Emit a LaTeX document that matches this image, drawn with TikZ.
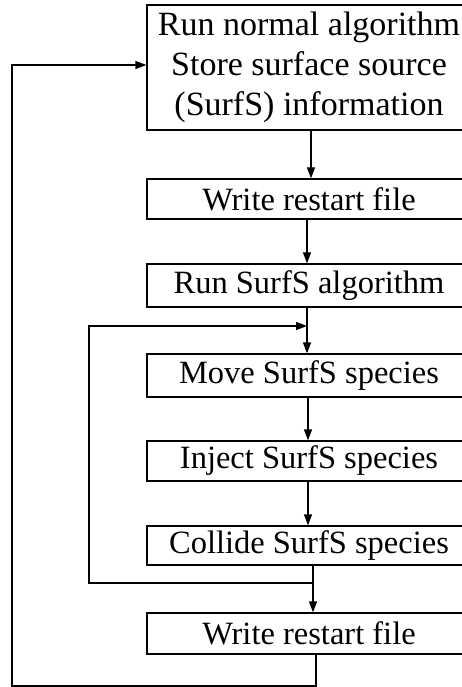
\documentclass[tikz,border=0pt]{standalone}
\usepackage{fontspec}
\setmainfont{Liberation Serif}
\usetikzlibrary{arrows.meta}
\begin{document}
\begin{tikzpicture}[x=1pt,y=-1pt,
  box/.style={draw, line width=1.3pt, minimum width=324pt, inner sep=0pt, align=center,
    font=\fontsize{32.5}{40}\selectfont},
  flow/.style={line width=1.3pt, -{Triangle[length=11pt,width=8pt]}},
  line/.style={line width=1.3pt}]
\useasboundingbox (0,0) rectangle (461,687);
\node[box, minimum height=125pt, font=\fontsize{34}{40}\selectfont] (b1) at (309,67.5)
  {Run normal algorithm\\Store surface source\\(SurfS) information};
\node[box, minimum height=40pt] (b2) at (309,199) {Write restart file};
\node[box, minimum height=43pt] (b3) at (309,285.5) {Run SurfS algorithm};
\node[box, minimum height=43pt] (b4) at (309,375.5) {Move SurfS species};
\node[box, minimum height=40pt] (b5) at (309,461) {Inject SurfS species};
\node[box, minimum height=39pt] (b6) at (309,545.5) {Collide SurfS species};
\node[box, minimum height=41pt] (b7) at (309,633.5) {Write restart file};
\coordinate (m1) at (89,583);
\coordinate (j1) at (307,326);
\coordinate (m2) at (12,686);
\draw[flow] ([xshift=2pt]b1.south) -- ([xshift=2pt]b2.north);
\draw[flow] ([xshift=-2pt]b2.south) -- ([xshift=-2pt]b3.north);
\draw[flow] ([xshift=-2pt]b3.south) -- ([xshift=-2pt]b4.north);
\draw[flow] ([xshift=-1pt]b4.south) -- ([xshift=-1pt]b5.north);
\draw[flow] ([xshift=-1pt]b5.south) -- ([xshift=-1pt]b6.north);
\draw[flow] ([xshift=4pt]b6.south) -- ([xshift=4pt]b7.north);
\draw[flow] ([xshift=4pt]b6.south) |- (m1) |- (j1);
\draw[flow] ([xshift=7pt]b7.south) |- (m2) |- ([yshift=2.5pt]b1.west);
\end{tikzpicture}
\end{document}
